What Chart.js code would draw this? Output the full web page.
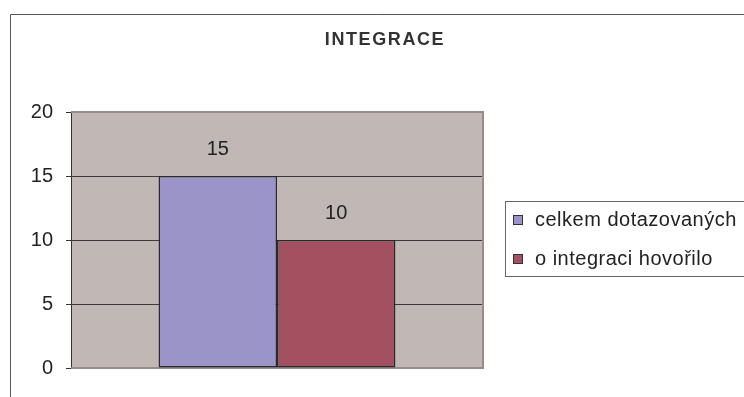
<!DOCTYPE html>
<html>
<head>
<meta charset="utf-8">
<script src="https://cdn.jsdelivr.net/npm/chart.js@4.4.1/dist/chart.umd.min.js"></script>
<style>
html,body{margin:0;padding:0;background:#fff;}
#wrap{position:relative;width:744px;height:397px;}
</style>
</head>
<body>
<div id="wrap"><canvas id="c" width="744" height="397"></canvas></div>
<script>
const chartTitle = "INTEGRACE";
const categories = [""];
const seriesNames = ["celkem dotazovaných", "o integraci hovořilo"];
const seriesValues = [[15], [10]];
const seriesColors = ["#9b94c8", "#a35060"];
const yTicks = [0, 5, 10, 15, 20];

const FONT = "'Liberation Sans', Arial, sans-serif";

const decor = {
  id: 'decor',
  beforeDraw(chart) {
    const ctx = chart.ctx, a = chart.chartArea;
    ctx.save();
    ctx.fillStyle = '#fff';
    ctx.fillRect(0, 0, chart.width, chart.height);
    ctx.strokeStyle = '#555';
    ctx.lineWidth = 1;
    ctx.beginPath();
    ctx.moveTo(10.5, chart.height);
    ctx.lineTo(10.5, 14.5);
    ctx.lineTo(chart.width, 14.5);
    ctx.stroke();
    ctx.fillStyle = '#c1b8b6';
    ctx.fillRect(a.left, a.top, a.right - a.left, a.bottom - a.top);
    ctx.restore();
  },
  beforeDatasetsDraw(chart) {
    const ctx = chart.ctx, a = chart.chartArea;
    ctx.save();
    ctx.strokeStyle = '#978b89';
    ctx.lineWidth = 2;
    ctx.beginPath();
    ctx.moveTo(a.left, a.top);
    ctx.lineTo(a.right, a.top);
    ctx.lineTo(a.right, a.bottom);
    ctx.lineTo(a.left, a.bottom);
    ctx.stroke();
    ctx.restore();
  },
  afterDatasetsDraw(chart) {
    const ctx = chart.ctx;
    ctx.save();
    ctx.font = '20px ' + FONT;
    ctx.fillStyle = '#222';
    ctx.textAlign = 'center';
    ctx.textBaseline = 'middle';
    chart.data.datasets.forEach((ds, i) => {
      const meta = chart.getDatasetMeta(i);
      meta.data.forEach((bar, j) => {
        ctx.fillText(String(ds.data[j]), bar.x, bar.y - 27);
      });
    });
    ctx.restore();
  },
  afterDraw(chart) {
    const ctx = chart.ctx;
    ctx.save();
    ctx.font = 'bold 18px ' + FONT;
    ctx.fillStyle = '#333';
    ctx.textAlign = 'center';
    ctx.textBaseline = 'middle';
    try { ctx.letterSpacing = '1.6px'; } catch (e) {}
    ctx.fillText(chartTitle, 385, 40);
    try { ctx.letterSpacing = '0px'; } catch (e) {}
    ctx.strokeStyle = '#666';
    ctx.lineWidth = 1;
    ctx.strokeRect(505.5, 201.5, 260, 75);
    ctx.font = '20px ' + FONT;
    ctx.textAlign = 'left';
    try { ctx.letterSpacing = '0.5px'; } catch (e) {}
    const ys = [220, 259];
    chart.data.datasets.forEach((ds, i) => {
      const y = ys[i];
      ctx.fillStyle = ds.backgroundColor;
      ctx.fillRect(513, y - 5, 10, 10);
      ctx.strokeStyle = '#333';
      ctx.strokeRect(513.5, y - 4.5, 9, 9);
      ctx.fillStyle = '#222';
      ctx.fillText(ds.label, 535, y);
    });
    ctx.restore();
  }
};

new Chart(document.getElementById('c'), {
  type: 'bar',
  data: {
    labels: categories,
    datasets: seriesNames.map((n, i) => ({
      label: n,
      data: seriesValues[i],
      backgroundColor: seriesColors[i],
      borderColor: '#2a2a2a',
      borderWidth: 1.5,
      borderSkipped: false,
      categoryPercentage: 0.575,
      barPercentage: 1
    }))
  },
  options: {
    responsive: false,
    animation: false,
    devicePixelRatio: 1,
    layout: { padding: { left: 0, top: 112, right: 261, bottom: 29 } },
    plugins: { legend: { display: false }, title: { display: false }, tooltip: { enabled: false } },
    scales: {
      x: { display: false },
      y: {
        min: 0, max: 20,
        afterFit(scale) { scale.width = 71; },
        afterBuildTicks(scale) { scale.ticks = yTicks.map(v => ({ value: v })); },
        ticks: { font: { size: 20, family: FONT }, color: '#222', padding: 13 },
        border: { display: true, color: '#333', width: 1 },
        grid: {
          color: ctx => (ctx.tick && (ctx.tick.value === 20 || ctx.tick.value === 0)) ? 'rgba(0,0,0,0)' : '#3a3a3a',
          tickColor: '#333',
          tickLength: 5,
          lineWidth: 1
        }
      }
    }
  },
  plugins: [decor]
});
</script>
</body>
</html>
